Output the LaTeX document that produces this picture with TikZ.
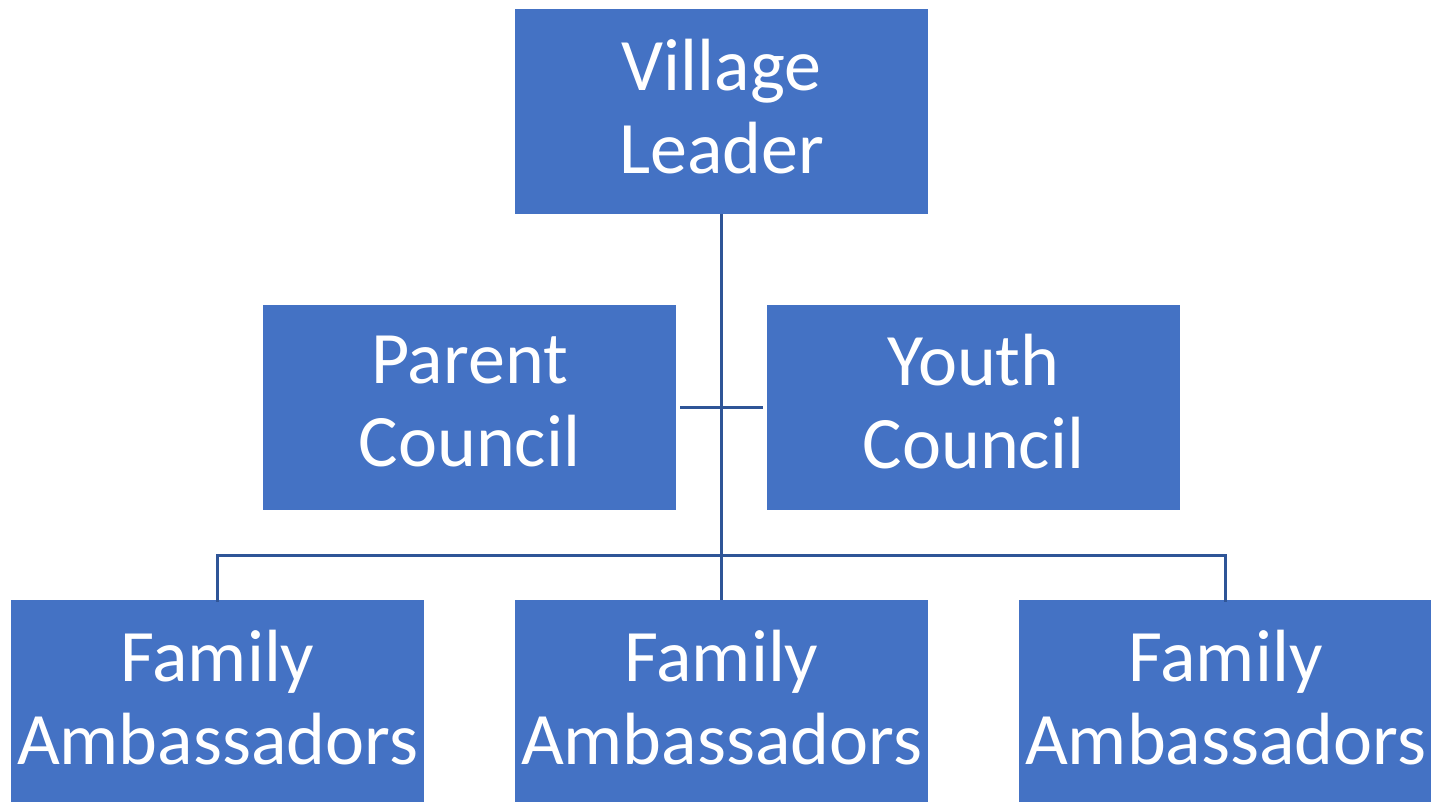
\documentclass[tikz,border=0pt]{standalone}
\usepackage{fontspec}
\setmainfont{Carlito}
\definecolor{boxblue}{HTML}{4472C4}
\definecolor{lineblue}{HTML}{2F5597}
\begin{document}
\begin{tikzpicture}[x=1pt,y=-1pt,
  orgbox/.style={fill=boxblue, draw=none, minimum width=413pt, minimum height=205pt, inner sep=0pt},
  orgtext/.style={text=white, inner sep=0pt, align=center, yshift=5pt, font=\fontsize{74}{83}\selectfont},
  conn/.style={draw=lineblue, line width=3pt}]
\useasboundingbox (0,0) rectangle (1431,801);
\clip (0,0) rectangle (1431,801);
\node[orgbox, label={[orgtext]center:Village\\Leader}] (vl) at (721.5,111.5) {};
\node[orgbox, label={[orgtext]center:Parent\\Council}] (pc) at (469.5,407) {};
\node[orgbox, label={[orgtext]center:Youth\\Council}] (yc) at (973.5,407) {};
\node[orgbox, label={[orgtext]center:Family\\Ambassadors}] (fa1) at (217.5,702.5) {};
\node[orgbox, label={[orgtext]center:Family\\Ambassadors}] (fa2) at (721.5,702.5) {};
\node[orgbox, label={[orgtext]center:Family\\Ambassadors}] (fa3) at (1225.5,702.5) {};
\coordinate (bar) at (721,555);
\draw[conn] (vl.south -| bar) -- (fa2.north -| bar);
\draw[conn] ([xshift=4pt]pc.east) -- ([xshift=-4pt]yc.west);
\draw[conn] ([yshift=-2pt]fa1.north) |- (bar) -| ([yshift=-2pt]fa3.north);
\end{tikzpicture}
\end{document}
